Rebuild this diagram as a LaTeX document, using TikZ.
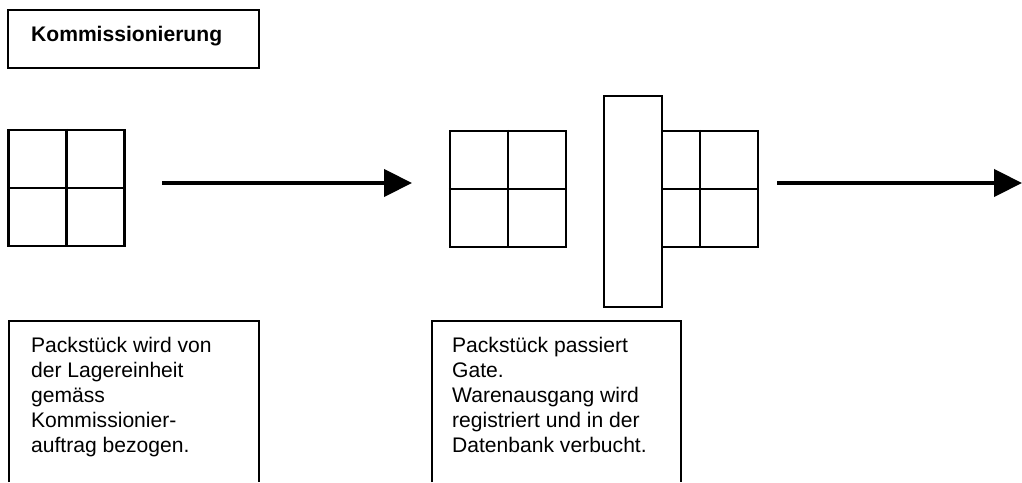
\documentclass[tikz,border=0pt]{standalone}
\usepackage{fontspec}
\setmainfont{Liberation Sans}
\usetikzlibrary{%
  arrows.meta,%
  positioning% wg. " of "
}

\begin{document}
\begin{tikzpicture}[
  font=\fontsize{12pt}{14.1pt}\selectfont,
  line width=1.3pt,
  titlebox/.style={rectangle, draw=black, minimum width=5.02cm, minimum height=1.16cm, inner sep=0pt},
  pack/.style={rectangle, draw=black, minimum width=2.32cm, minimum height=2.32cm, inner sep=0pt},
  gate/.style={rectangle, draw=black, fill=white, minimum width=1.16cm, minimum height=4.22cm, inner sep=0pt},
  flow/.style={-{Triangle[length=0.56cm,width=0.54cm]}, line width=2.5pt},
  desc/.style={anchor=north west, align=left, inner sep=0pt}
]
\useasboundingbox (0,0) rectangle (20.44,9.64);

% Titel
\node[titlebox] (title) at (2.67,8.86) {};
\node[anchor=base west, inner sep=0pt] (titletext) at (0.60,8.80) {\bfseries Kommissionierung};

% Packstuecke
\node[pack] (p1) at (1.33,5.88) {};
\node[pack] (p2) at (10.16,5.86) {};
\node[pack] (p3) at (14.00,5.86) {};
\foreach \p in {p1,p2,p3} {
  \draw (\p.north) -- (\p.south);
  \draw (\p.west) -- (\p.east);
}

% Gate
\node[gate] (gate) at (12.66,5.61) {};

% Pfeile
\coordinate (a1s) at (3.24,5.98);
\coordinate (a1e) at (8.24,5.98);
\coordinate (a2s) at (15.54,5.98);
\coordinate (a2e) at (20.44,5.98);
\draw[flow] (a1s) -- (a1e);
\draw[flow] (a2s) -- (a2e);

% Beschreibungen
\draw (0.18,0) -- (0.18,3.22) -- (5.18,3.22) -- (5.18,0);
\draw (8.64,0) -- (8.64,3.22) -- (13.62,3.22) -- (13.62,0);
\node[desc] (d1) at (0.60,2.91) {Packstück wird von\\der Lagereinheit\\gemäss\\Kommissionier-\\auftrag bezogen.};
\node[desc] (d2) at (9.02,2.91) {Packstück passiert\\Gate.\\Warenausgang wird\\registriert und in der\\Datenbank verbucht.};

\end{tikzpicture}
\end{document}
